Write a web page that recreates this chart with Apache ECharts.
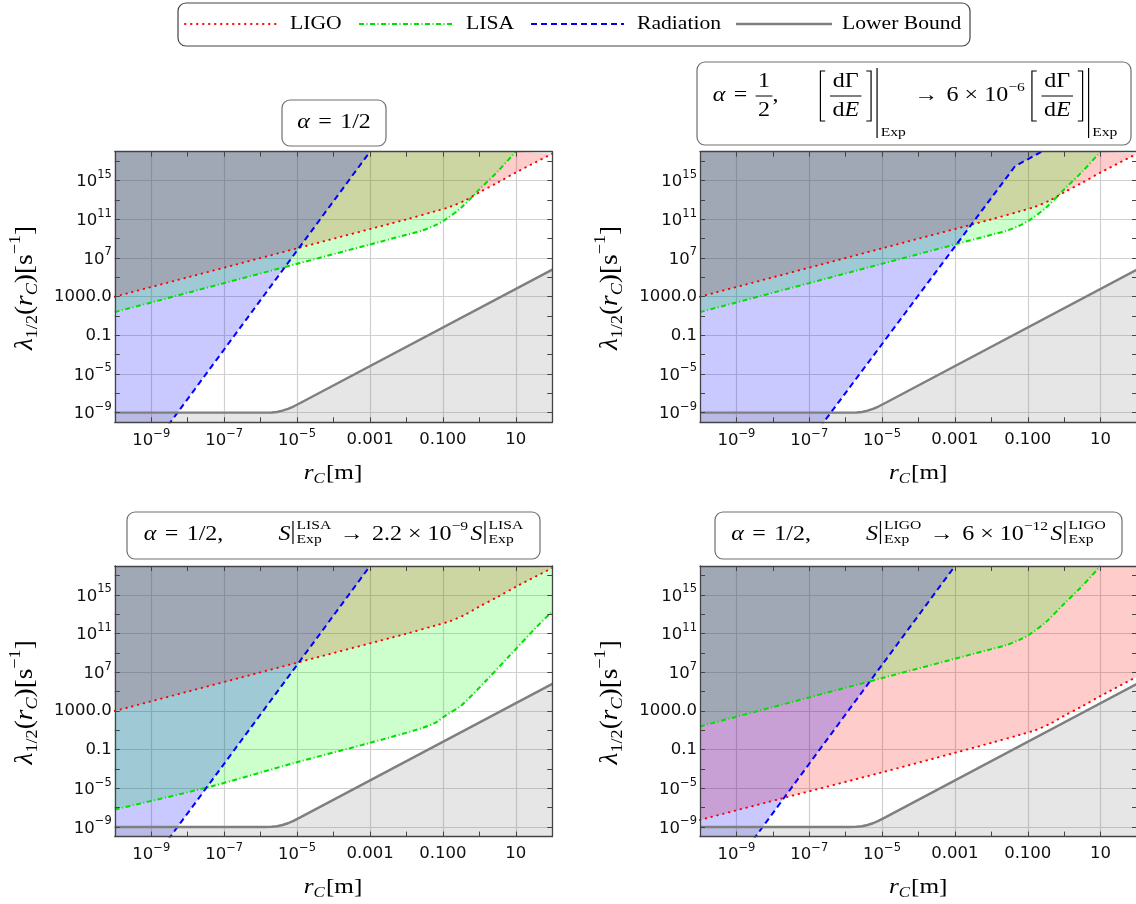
<!DOCTYPE html>
<html>
<head>
<meta charset="utf-8">
<title>Collapse rate bounds</title>
<script src="https://cdn.jsdelivr.net/npm/echarts@6/dist/echarts.min.js"></script>
<style>
  html, body { margin: 0; padding: 0; background: #fff; }
  #chart { width: 1136px; height: 904px; }
</style>
</head>
<body>
<div id="chart"></div>
<script>
"use strict";

// Every curve point is [log10(r_C / m), log10(lambda_1/2 / s^-1)]

// Lower bound (same in all panels)
const lowerBound = [[-10, -9], [-5.9, -9], [-5.7, -8.98], [-5.55, -8.93], [-5.4, -8.8],
  [-5.25, -8.62], [-5.1, -8.37], [-4.9, -7.98], [2, 5.8]];

// LIGO bound, and with S_Exp scaled by 6e-12
const ligo = [[-10, 3], [-5, 8], [-2, 11], [-1.2, 11.85], [-0.8, 12.3], [-0.4, 12.95],
  [0, 13.8], [0.5, 14.8], [1, 15.85], [2, 17.8]];
const ligoScaled = [[-10, -8.27], [-7.8, -6.1], [-5, -3.35], [-3, -1.33], [-2, -0.3],
  [-1.2, 0.55], [-0.8, 1.0], [-0.4, 1.65], [0, 2.5], [0.5, 3.5], [1, 4.55], [2, 6.55]];

// LISA bound, and with S_Exp scaled by 2.2e-9
const lisa = [[-10, 1.4], [-5, 6.4], [-2, 9.4], [-1.6, 9.8], [-1.2, 10.4], [-0.9, 11.05],
  [-0.5, 12.2], [0, 14.1], [0.5, 15.95], [1, 18]];
const lisaScaled = [[-10, -7.2], [-7.4, -4.85], [-5, -2.3], [-3, -0.3], [-1.6, 1.2],
  [-1.2, 1.8], [-0.9, 2.6], [-0.5, 3.55], [0.2, 6.2], [0.85, 8.8], [1.57, 11.7], [2, 13.3]];

// Radiation bound (first point lies below the frame), and with dGamma/dE scaled by 6e-6
const radiation = [[-10, -17.8], [-3, 18]];
const radiationScaled = [[-10, -27.1], [-1.35, 16.5], [-0.62, 18]];

// axis ticks, in log10 units
const xTicks = [-9, -8, -7, -6, -5, -4, -3, -2, -1, 0, 1];
const xLabelVals = [-9, -7, -5, -3, -1, 1];
const xLabelText = ["10^−9", "10^−7", "10^−5", "0.001", "0.100", "10"];
const yTicks = [17, 15, 13, 11, 9, 7, 5, 3, 1, -1, -3, -5, -7, -9];
const yLabelVals = [15, 11, 7, 3, -1, -5, -9];
const yLabelText = ["10^15", "10^11", "10^7", "1000.0", "0.1", "10^−5", "10^−9"];

const panels = [
  { ligo: ligo, lisa: lisa, radiation: radiation },
  { ligo: ligo, lisa: lisa, radiation: radiationScaled },
  { ligo: ligo, lisa: lisaScaled, radiation: radiation },
  { ligo: ligoScaled, lisa: lisa, radiation: radiation }
];

const SERIF = '"Liberation Serif", "Times New Roman", serif';
const SANS = '"DejaVu Sans", sans-serif';
const STRETCH = 1.2;
const FRAME = "#444";
const GRIDC = "#d0d0d0";

const styles = {
  LIGO: { color: "#ff0000", width: 2, dash: [0.5, 5.5], cap: "round", fill: "rgba(255,0,0,0.2)" },
  LISA: { color: "#00e000", width: 2, dash: [5, 2.5, 1, 2.5], cap: "butt", fill: "rgba(0,255,0,0.2)" },
  Radiation: { color: "#0000ff", width: 2, dash: [6, 4], cap: "butt", fill: "rgba(0,0,255,0.21)" },
  "Lower Bound": { color: "#7f7f7f", width: 2.4, dash: null, cap: "butt", fill: "rgba(128,128,128,0.2)" }
};

const grids = [
  { left: 114.8, top: 151.7, width: 437.5, height: 270.6 },
  { left: 700, top: 151.7, width: 437, height: 270.6 },
  { left: 114.8, top: 566, width: 437.5, height: 270.6 },
  { left: 700, top: 566, width: 437, height: 270.6 }
];

/**
 * Tick label formatter, "10^x" becomes a rich superscript label
 */
function tickFormatter(vals, texts) {
  return function (v) {
    const i = vals.indexOf(Math.round(v));
    if (i < 0) return "";
    const t = texts[i];
    const k = t.indexOf("^");
    return k < 0 ? t : "{b|" + t.slice(0, k) + "}{s|" + t.slice(k + 1) + "}";
  };
}

const tickRich = {
  b: { fontFamily: SANS, fontSize: 16.5, color: "#111", padding: [3, 0, 0, 0] },
  s: { fontFamily: SANS, fontSize: 11.5, color: "#111", padding: [0, 0, 11, 0] }
};

function frameLine() {
  return { show: true, onZero: false, lineStyle: { color: FRAME, width: 1.3 } };
}
function innerTicks(vals) {
  return { show: true, inside: true, length: 5, customValues: vals, lineStyle: { color: FRAME, width: 1 } };
}

function xAxesFor(g) {
  const base = { gridIndex: g, type: "value", min: -10, max: 2 };
  return [
    Object.assign({}, base, {
      position: "bottom", z: 5,
      axisLine: frameLine(), axisTick: innerTicks(xTicks),
      axisLabel: {
        show: true, customValues: xLabelVals, formatter: tickFormatter(xLabelVals, xLabelText),
        margin: 17, verticalAlign: "middle", fontFamily: SANS, fontSize: 16.5, color: "#111", rich: tickRich
      },
      splitLine: { show: false }
    }),
    Object.assign({}, base, {
      position: "bottom", z: 0,
      axisLine: { show: false, onZero: false },
      axisTick: { show: false, customValues: xLabelVals },
      axisLabel: { show: false },
      splitLine: { show: true, lineStyle: { color: GRIDC, width: 1.2 } }
    }),
    Object.assign({}, base, {
      position: "top", z: 5,
      axisLine: frameLine(), axisTick: innerTicks(xTicks),
      axisLabel: { show: false }, splitLine: { show: false }
    })
  ];
}

function yAxesFor(g) {
  const base = { gridIndex: g, type: "value", min: -10, max: 18 };
  return [
    Object.assign({}, base, {
      position: "left", z: 5,
      axisLine: frameLine(), axisTick: innerTicks(yTicks),
      axisLabel: {
        show: true, customValues: yLabelVals, formatter: tickFormatter(yLabelVals, yLabelText),
        margin: 3, fontFamily: SANS, fontSize: 16.5, color: "#111", rich: tickRich
      },
      splitLine: { show: false }
    }),
    Object.assign({}, base, {
      position: "left", z: 0,
      axisLine: { show: false, onZero: false },
      axisTick: { show: false, customValues: yLabelVals },
      axisLabel: { show: false },
      splitLine: { show: true, lineStyle: { color: GRIDC, width: 1.2 } }
    }),
    Object.assign({}, base, {
      position: "right", z: 5,
      axisLine: frameLine(), axisTick: innerTicks(yTicks),
      axisLabel: { show: false }, splitLine: { show: false }
    })
  ];
}

/**
 * One curve = a fill series (to top or bottom) plus a line series on top
 */
function curveSeries(g, name, data, origin, smooth) {
  const st = styles[name];
  const common = {
    type: "line", xAxisIndex: 3 * g, yAxisIndex: 3 * g, data: data,
    symbol: "none", silent: true, smooth: smooth, clip: true
  };
  return [
    Object.assign({}, common, {
      z: 2, lineStyle: { width: 0, opacity: 0 },
      areaStyle: { color: st.fill, origin: origin, opacity: 1 }
    }),
    Object.assign({}, common, {
      z: 3, lineStyle: { color: st.color, width: st.width, type: st.dash || "solid", cap: st.cap }
    })
  ];
}

let xAxes = [], yAxes = [], series = [];
panels.forEach(function (p, g) {
  xAxes = xAxes.concat(xAxesFor(g));
  yAxes = yAxes.concat(yAxesFor(g));
  const fills = [], lines = [];
  [["LIGO", p.ligo, "end", 0.3], ["LISA", p.lisa, "end", 0.3],
   ["Radiation", p.radiation, "end", false], ["Lower Bound", lowerBound, "start", false]]
    .forEach(function (c) {
      const s = curveSeries(g, c[0], c[1], c[2], c[3]);
      fills.push(s[0]);
      lines.push(s[1]);
    });
  series = series.concat(fills, lines);
});

// ---- text layout for the math labels (drawn as graphic elements) ----
const measureCtx = document.createElement("canvas").getContext("2d");
function fontOf(size, italic) {
  return (italic ? "italic " : "") + size + "px " + SERIF;
}
function textWidth(str, size, italic) {
  measureCtx.font = fontOf(size, italic);
  return measureCtx.measureText(str).width;
}
function spansWidth(spans, size) {
  return spans.reduce(function (w, sp) { return w + textWidth(sp[0], size, sp[1]); }, 0);
}

function layoutMath(tokens, F) {
  const S = Math.round(F * 0.65);
  const els = [];
  let x = 0;
  function run(spans, size, x0, dy) {
    let xx = x0;
    spans.forEach(function (sp) {
      els.push({
        type: "text", x: xx, y: dy, silent: true,
        style: { text: sp[0], font: fontOf(size, sp[1]), fill: "#000", textAlign: "left", textVerticalAlign: "middle" }
      });
      xx += textWidth(sp[0], size, sp[1]);
    });
    return xx - x0;
  }
  function stroke(shape, type) {
    els.push({ type: type, silent: true, shape: shape, style: { stroke: "#000", lineWidth: 1, fill: null } });
  }
  tokens.forEach(function (t) {
    if (t.gap !== undefined) {
      x += t.gap;
    } else if (t.r) {
      x += run(t.r, t.size || F, x, t.dy || 0);
    } else if (t.sup) {
      x += run(t.sup, S, x, t.dy !== undefined ? t.dy : -0.44 * F);
    } else if (t.sub) {
      x += run(t.sub, S, x, t.dy !== undefined ? t.dy : 0.3 * F);
    } else if (t.stack) {
      const w = Math.max(spansWidth(t.stack[0], S), spansWidth(t.stack[1], S));
      run(t.stack[0], S, x, t.up);
      run(t.stack[1], S, x, t.down);
      x += w;
    } else if (t.frac) {
      const wn = spansWidth(t.frac[0], F), wd = spansWidth(t.frac[1], F);
      const w = Math.max(wn, wd) + 4;
      run(t.frac[0], F, x + (w - wn) / 2, -0.7 * F);
      run(t.frac[1], F, x + (w - wd) / 2, 0.72 * F);
      stroke({ x1: x, y1: 0, x2: x + w, y2: 0 }, "line");
      x += w;
    } else if (t.bar) {
      stroke({ x1: x + 1, y1: t.bar[0], x2: x + 1, y2: t.bar[1] }, "line");
      x += 2;
    } else if (t.brk) {
      const a = t.h[0], b = t.h[1];
      const pts = t.brk === "["
        ? [[x + 5, a], [x + 1, a], [x + 1, b], [x + 5, b]]
        : [[x + 1, a], [x + 5, a], [x + 5, b], [x + 1, b]];
      stroke({ points: pts }, "polyline");
      x += 6;
    }
  });
  return { els: els, width: x };
}

function mathGroup(tokens, F, cx, cy) {
  const m = layoutMath(tokens, F);
  return { type: "group", x: cx - m.width * STRETCH / 2, y: cy, scaleX: STRETCH, children: m.els };
}

function yNameGroup(cx, cy) {
  const m = layoutMath(yNameTokens, 21);
  return {
    type: "group", x: cx, y: cy, scaleX: STRETCH, scaleY: 1.3,
    children: [{ type: "group", rotation: Math.PI / 2, x: 0, y: m.width / 2, children: m.els }]
  };
}

const T = function (s, it) { return [[s, it ? 1 : 0]]; };
const alphaHalf = [{ r: T("α", 1) }, { gap: 7 }, { r: T("=") }, { gap: 7 }];
function sExp(tag) {
  return [{ r: T("S", 1) }, { gap: 1 }, { bar: [-14, 9] }, { gap: 2 },
    { stack: [T(tag), T("Exp")], up: -9, down: 5 }];
}
const dGdE = [{ brk: "[", h: [-25, 25] }, { gap: 3 },
  { frac: [[["d", 0], ["Γ", 0]], [["d", 0], ["E", 1]]] }, { gap: 3 }, { brk: "]", h: [-25, 25] },
  { gap: 3 }, { bar: [-28, 42] }, { gap: 2 }, { sub: T("Exp"), dy: 37 }];

const title1 = alphaHalf.concat([{ r: T("1/2") }]);
const title2 = alphaHalf.concat([{ frac: [T("1"), T("2")] }, { r: T(",") }, { gap: 34 }], dGdE,
  [{ gap: 7 }, { r: T("→") }, { gap: 7 }, { r: T("6") }, { gap: 5 }, { r: T("×") }, { gap: 5 },
   { r: T("10") }, { sup: T("−6") }, { gap: 5 }], dGdE);
const title3 = alphaHalf.concat([{ r: T("1/2,") }, { gap: 46 }], sExp("LISA"),
  [{ gap: 7 }, { r: T("→") }, { gap: 7 }, { r: T("2.2") }, { gap: 5 }, { r: T("×") }, { gap: 5 },
   { r: T("10") }, { sup: T("−9") }, { gap: 2 }], sExp("LISA"));
const title4 = alphaHalf.concat([{ r: T("1/2,") }, { gap: 46 }], sExp("LIGO"),
  [{ gap: 7 }, { r: T("→") }, { gap: 7 }, { r: T("6") }, { gap: 5 }, { r: T("×") }, { gap: 5 },
   { r: T("10") }, { sup: T("−12") }, { gap: 2 }], sExp("LIGO"));
const xNameTokens = [{ r: T("r", 1) }, { sub: T("C", 1), dy: 6 }, { gap: 1 }, { r: T("[m]") }];
const yNameTokens = [{ r: T("λ", 1) }, { sub: T("1/2"), dy: 6 }, { r: [["(", 0], ["r", 1]] },
  { sub: T("C", 1), dy: 6 }, { r: T(")[s") }, { sup: T("−1"), dy: -8 }, { r: T("]") }];

function box(x, y, w, h) {
  return {
    type: "rect", silent: true, shape: { x: x, y: y, width: w, height: h, r: 8 },
    style: { fill: "#fff", stroke: "#707070", lineWidth: 1.2 }
  };
}

const graphics = [];
// title boxes
graphics.push(box(282, 100, 104, 46), mathGroup(title1, 20, 334, 123));
graphics.push(box(697, 62, 434, 83), mathGroup(title2, 20, 915, 96));
graphics.push(box(127, 512, 413, 47), mathGroup(title3, 20, 333.5, 535));
graphics.push(box(715, 512, 407, 47), mathGroup(title4, 20, 918.5, 535));
// axis names
[[0, 0], [585.2, 0], [0, 414.3], [585.2, 414.3]].forEach(function (o) {
  graphics.push(mathGroup(xNameTokens, 21, 333 + o[0], 473 + o[1]));
  graphics.push(yNameGroup(25 + o[0], 288 + o[1]));
});

// legend
graphics.push({
  type: "rect", silent: true, shape: { x: 178, y: 3, width: 792, height: 43, r: 8 },
  style: { fill: "#fff", stroke: "#444", lineWidth: 1.2 }
});
const legendNames = ["LIGO", "LISA", "Radiation", "Lower Bound"];
const legendLineX = [[185, 277], [359, 452], [531, 624], [736, 832]];
const legendTextX = [290, 466, 637, 842];
legendNames.forEach(function (name, i) {
  const st = styles[name];
  graphics.push({
    type: "line", silent: true,
    shape: { x1: legendLineX[i][0], y1: 24, x2: legendLineX[i][1], y2: 24 },
    style: { stroke: st.color, lineWidth: st.width, lineDash: st.dash, lineCap: st.cap }
  });
  graphics.push({
    type: "text", silent: true, x: legendTextX[i], y: 24, scaleX: STRETCH,
    style: { text: name, font: fontOf(18, false), fill: "#000", textAlign: "left", textVerticalAlign: "middle" }
  });
});

const chart = echarts.init(document.getElementById("chart"), null, { renderer: "canvas" });
chart.setOption({
  backgroundColor: "#fff",
  animation: false,
  grid: grids.map(function (g) {
    return Object.assign({ containLabel: false, outerBoundsMode: "none" }, g);
  }),
  xAxis: xAxes,
  yAxis: yAxes,
  series: series,
  graphic: { elements: graphics }
});
</script>
</body>
</html>
